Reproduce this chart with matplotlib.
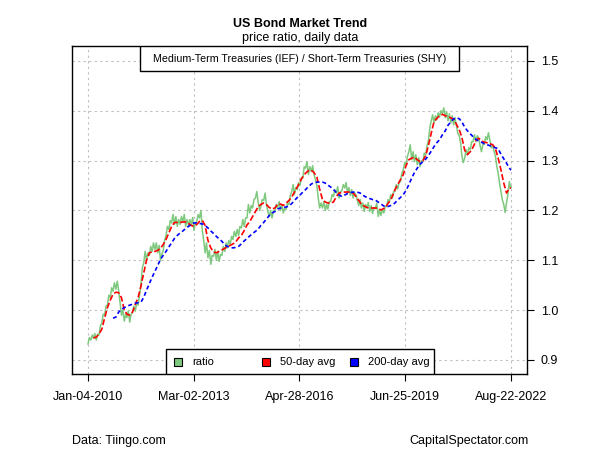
import matplotlib
matplotlib.use("Agg")
import matplotlib.pyplot as plt
from matplotlib.patches import Rectangle
import pandas as pd

plt.rcParams['font.family'] = ['Liberation Sans', 'DejaVu Sans']

# IEF/SHY price ratio, two readings per month
# (early / late month), Jan 2010 .. Aug 2022, then the last day
ratio = [
    0.932, 0.945, 0.940, 0.950, 0.944, 0.953, 0.940, 0.952, 0.950, 0.968, 0.975, 0.992,
    0.990, 1.008, 1.010, 1.030, 1.025, 1.045, 1.038, 1.055, 1.042, 1.058, 1.040, 1.015,
    0.990, 1.000, 0.978, 0.992, 0.985, 0.998, 0.976, 0.992, 0.995, 1.008, 0.998, 1.015,
    1.010, 1.030, 1.050, 1.085, 1.095, 1.118, 1.100, 1.115, 1.110, 1.128, 1.118, 1.135,
    1.122, 1.135, 1.115, 1.130, 1.100, 1.112, 1.120, 1.140, 1.150, 1.168, 1.162, 1.180,
    1.175, 1.192, 1.172, 1.188, 1.168, 1.182, 1.172, 1.188, 1.178, 1.192, 1.168, 1.182,
    1.170, 1.182, 1.172, 1.186, 1.160, 1.175, 1.178, 1.192, 1.185, 1.200, 1.160, 1.140,
    1.115, 1.135, 1.105, 1.120, 1.092, 1.110, 1.108, 1.122, 1.100, 1.118, 1.098, 1.112,
    1.110, 1.128, 1.118, 1.135, 1.125, 1.140, 1.132, 1.148, 1.142, 1.158, 1.148, 1.162,
    1.150, 1.168, 1.165, 1.182, 1.168, 1.185, 1.185, 1.212, 1.195, 1.210, 1.205, 1.222,
    1.225, 1.238, 1.215, 1.200, 1.208, 1.222, 1.220, 1.235, 1.212, 1.198, 1.188, 1.200,
    1.185, 1.198, 1.198, 1.212, 1.205, 1.218, 1.200, 1.212, 1.195, 1.205, 1.202, 1.215,
    1.212, 1.230, 1.238, 1.252, 1.232, 1.246, 1.242, 1.256, 1.250, 1.266, 1.265, 1.288,
    1.285, 1.298, 1.272, 1.288, 1.278, 1.290, 1.272, 1.262, 1.250, 1.225, 1.205, 1.215,
    1.205, 1.218, 1.200, 1.212, 1.203, 1.218, 1.218, 1.232, 1.228, 1.242, 1.235, 1.248,
    1.225, 1.238, 1.240, 1.252, 1.245, 1.256, 1.235, 1.246, 1.230, 1.242, 1.225, 1.236,
    1.232, 1.220, 1.210, 1.222, 1.205, 1.215, 1.198, 1.212, 1.205, 1.216, 1.198, 1.210,
    1.194, 1.206, 1.204, 1.215, 1.188, 1.200, 1.190, 1.202, 1.195, 1.208, 1.208, 1.222,
    1.218, 1.232, 1.225, 1.238, 1.238, 1.252, 1.243, 1.256, 1.258, 1.274, 1.282, 1.296,
    1.292, 1.308, 1.318, 1.332, 1.302, 1.318, 1.298, 1.312, 1.292, 1.306, 1.288, 1.300,
    1.298, 1.315, 1.312, 1.330, 1.340, 1.365, 1.380, 1.392, 1.376, 1.390, 1.382, 1.396,
    1.388, 1.400, 1.395, 1.406, 1.386, 1.398, 1.380, 1.394, 1.376, 1.390, 1.372, 1.386,
    1.370, 1.355, 1.350, 1.335, 1.310, 1.296, 1.305, 1.322, 1.312, 1.326, 1.322, 1.338,
    1.338, 1.352, 1.338, 1.350, 1.345, 1.330, 1.318, 1.332, 1.333, 1.348, 1.342, 1.356,
    1.340, 1.326, 1.330, 1.318, 1.310, 1.290, 1.275, 1.255, 1.238, 1.222, 1.212, 1.196,
    1.215, 1.232, 1.258, 1.245,
    1.248]

# 50-day average, monthly readings from Mar 2010
avg50 = [
    0.944, 0.946, 0.952, 0.962, 0.984, 1.005, 1.020, 1.032, 1.036, 1.035,
    1.025, 1.000, 0.992, 0.990, 0.996, 1.012, 1.025, 1.048, 1.075, 1.100, 1.115, 1.117,
    1.118, 1.120, 1.124, 1.132, 1.142, 1.155, 1.168, 1.176, 1.176, 1.176, 1.177, 1.177,
    1.174, 1.170, 1.168, 1.172, 1.178, 1.180, 1.170, 1.140, 1.125, 1.117, 1.115, 1.118,
    1.121, 1.124, 1.127, 1.130, 1.133, 1.137, 1.145, 1.150, 1.160, 1.171, 1.178, 1.188,
    1.198, 1.208, 1.212, 1.215, 1.212, 1.206, 1.203, 1.205, 1.213, 1.213, 1.210, 1.215,
    1.220, 1.227, 1.237, 1.247, 1.258, 1.268, 1.275, 1.280, 1.281, 1.276, 1.267, 1.243,
    1.222, 1.217, 1.215, 1.215, 1.217, 1.228, 1.235, 1.236, 1.237, 1.237, 1.237, 1.235,
    1.228, 1.220, 1.213, 1.209, 1.206, 1.205, 1.205, 1.205, 1.204, 1.201, 1.204, 1.210,
    1.218, 1.228, 1.241, 1.252, 1.262, 1.272, 1.290, 1.302, 1.305, 1.307, 1.302, 1.298,
    1.300, 1.310, 1.330, 1.355, 1.378, 1.385, 1.390, 1.393, 1.390, 1.388, 1.386, 1.383,
    1.373, 1.362, 1.347, 1.321, 1.312, 1.318, 1.327, 1.340, 1.345, 1.340, 1.337, 1.336,
    1.334, 1.332, 1.325, 1.305, 1.282, 1.255, 1.235, 1.245,
    1.245]

# 200-day average, monthly readings from Oct 2010
avg200 = [
    0.984, 0.986, 0.996,
    1.002, 1.005, 1.008, 1.010, 1.012, 1.014, 1.015, 1.016, 1.026, 1.040, 1.053, 1.066,
    1.078, 1.090, 1.102, 1.110, 1.118, 1.127, 1.135, 1.144, 1.150, 1.155, 1.159, 1.164,
    1.168, 1.172, 1.175, 1.175, 1.174, 1.173, 1.170, 1.165, 1.159, 1.154, 1.148, 1.143,
    1.138, 1.131, 1.128, 1.126, 1.125, 1.126, 1.128, 1.133, 1.139, 1.144, 1.149, 1.154,
    1.158, 1.163, 1.170, 1.176, 1.183, 1.190, 1.195, 1.198, 1.203, 1.205, 1.206, 1.207,
    1.209, 1.214, 1.220, 1.226, 1.231, 1.237, 1.242, 1.248, 1.253, 1.256, 1.257, 1.257,
    1.257, 1.255, 1.251, 1.247, 1.242, 1.236, 1.231, 1.228, 1.231, 1.234, 1.236, 1.237,
    1.237, 1.236, 1.234, 1.229, 1.226, 1.224, 1.222, 1.221, 1.217, 1.213, 1.209, 1.207,
    1.209, 1.211, 1.215, 1.221, 1.226, 1.232, 1.240, 1.252, 1.265, 1.276, 1.285, 1.293,
    1.298, 1.303, 1.310, 1.319, 1.328, 1.336, 1.342, 1.352, 1.360, 1.371, 1.378, 1.384,
    1.386, 1.384, 1.378, 1.367, 1.360, 1.354, 1.348, 1.343, 1.339, 1.337, 1.334, 1.332,
    1.330, 1.327, 1.326, 1.324, 1.313, 1.304, 1.295, 1.285,
    1.281]

tick_labels = ['Jan-04-2010', 'Mar-02-2013', 'Apr-28-2016', 'Jun-25-2019', 'Aug-22-2022']
y_ticks = [0.9, 1.0, 1.1, 1.2, 1.3, 1.4, 1.5]

months = list(pd.date_range('2010-01-04', periods=152, freq=pd.DateOffset(months=1)))
last_day = pd.Timestamp('2022-08-22')
d_ratio = []
for m in months:
    d_ratio += [m, m + pd.Timedelta(days=15)]
d_ratio.append(last_day)
d_50 = months[2:] + [last_day]
d_200 = months[9:] + [last_day]
tick_dates = pd.to_datetime(tick_labels, format='%b-%d-%Y')

fig = plt.figure(figsize=(6, 4.5), dpi=100)
ax = fig.add_axes([72/600, 76/450, 455/600, 328/450])

green = '#7fc97f'
ax.plot(d_ratio, ratio, color=green, lw=1.1, zorder=2)
ax.plot(d_50, avg50, color='red', lw=1.2, ls=(0, (3.6, 1.5)), zorder=3)
ax.plot(d_200, avg200, color='blue', lw=1.2, ls=(0, (2.4, 1.7)), zorder=3)

pad = (tick_dates[-1] - tick_dates[0]) * (16/423)
ax.set_xlim(tick_dates[0] - pad, tick_dates[-1] + pad)
ax.set_ylim(0.8719, 1.5301)
ax.set_xticks(tick_dates)
ax.set_xticklabels(tick_labels)
ax.set_yticks(y_ticks)
ax.set_yticklabels([str(v) for v in y_ticks])
ax.yaxis.tick_right()
ax.tick_params(axis='both', direction='out', length=5, width=0.8, labelsize=9, pad=5)
ax.tick_params(axis='x', pad=7)
ax.grid(True, color='#bebebe', ls=(0, (2, 3)), lw=0.8)
ax.set_axisbelow(True)
for s in ax.spines.values():
    s.set_linewidth(1)

# series name box at the top
ax.add_patch(Rectangle((68/455, 1 - 25/328), 319/455, 25/328, transform=ax.transAxes,
                       fc='white', ec='black', lw=1, zorder=5))
ax.text(0.5, 1 - 12.5/328, 'Medium-Term Treasuries (IEF) / Short-Term Treasuries (SHY)',
        transform=ax.transAxes, ha='center', va='center', fontsize=7.7, zorder=6)

# legend at the bottom
ax.add_patch(Rectangle((94/455, 0), 268/455, 25/328, transform=ax.transAxes,
                       fc='white', ec='black', lw=1, zorder=5))
names = ['ratio', '50-day avg', '200-day avg']
cols = [green, 'red', 'blue']
for i in range(3):
    sx = (174 + i*88 - 72) / 455
    ax.add_patch(Rectangle((sx, 8/328), 8/455, 8/328, transform=ax.transAxes,
                           fc=cols[i], ec='black', lw=0.8, zorder=6))
    ax.text(sx + 18/455, 12/328, names[i], transform=ax.transAxes, ha='left',
            va='center', fontsize=8, zorder=6)

fig.text(0.5, 1 - 24/450, 'US Bond Market Trend', ha='center', va='center',
         fontsize=9, fontweight='bold')
fig.text(0.5, 1 - 38/450, 'price ratio, daily data', ha='center', va='center', fontsize=9)
fig.text(72/600, 1 - 441/450, 'Data: Tiingo.com', ha='left', va='center', fontsize=9)
fig.text(529/600, 1 - 441/450, 'CapitalSpectator.com', ha='right', va='center', fontsize=9)

fig.savefig('out.png', dpi=100)
